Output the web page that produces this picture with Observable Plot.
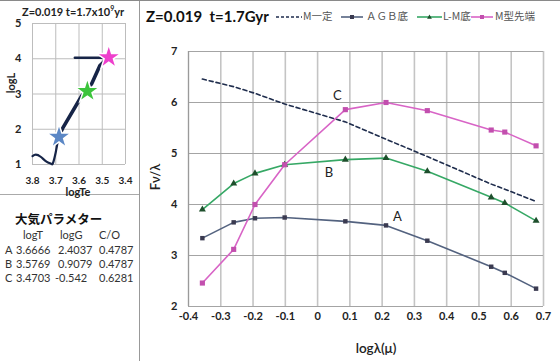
<!DOCTYPE html>
<html><head><meta charset="utf-8">
<script src="https://cdn.jsdelivr.net/npm/d3@7"></script>
<script src="https://cdn.jsdelivr.net/npm/@observablehq/plot@0.6"></script>
<style>
body{margin:0;background:#fff;}
#page{position:relative;width:560px;height:361px;overflow:hidden;font-family:Lato,"Noto Sans CJK JP",sans-serif;border-top:1px solid #8a8a8a;box-sizing:border-box;}
.abs{position:absolute;white-space:nowrap;line-height:1;}
.c{transform:translate(-50%,-50%);}
.lg{font-family:"Noto Sans CJK JP",sans-serif;font-size:10.5px;color:#555;top:10px;}
.tb{font-size:11px;color:#333;}
</style></head><body>
<div id="page">
  <div id="inset" class="abs" style="left:0;top:0;"></div>
  <div id="main" class="abs" style="left:140px;top:36px;"></div>
  <div class="abs" style="left:139px;top:0;width:1px;height:361px;background:#999;"></div>
  <div class="abs" style="left:0;top:193px;width:139px;height:1px;background:#aaa;"></div>

  <div class="abs" style="left:22px;top:4px;font-weight:bold;font-size:11px;color:#222;">Z=0.019 t=1.7x10<sup style="font-size:7px">9</sup>yr</div>
  <div class="abs c" style="left:10px;top:82px;font-weight:bold;font-size:11px;color:#222;transform:translate(-50%,-50%) rotate(-90deg);">logL</div>
  <div class="abs c" style="left:78px;top:190px;font-weight:bold;font-size:11px;color:#222;">logTe</div>

  <div class="abs" style="left:146px;top:8px;font-weight:bold;font-size:15px;color:#111;">Z=0.019&nbsp;&nbsp;t=1.7Gyr</div>
  <div id="legend"></div>

  <div class="abs c" style="left:155px;top:176px;font-weight:600;font-size:13px;color:#222;transform:translate(-50%,-50%) rotate(-90deg);">Fν/λ</div>
  <div class="abs c" style="left:376px;top:348px;font-weight:600;font-size:13.5px;color:#222;">logλ(μ)</div>

  <div id="table"></div>
</div>
<script>
// ---- main chart data ----
const logLam = [-0.357, -0.260, -0.194, -0.102, 0.086, 0.212, 0.340, 0.538, 0.580, 0.677];
const mConst = [6.46, 6.31, 6.18, 5.97, 5.62, 5.28, 4.94, 4.40, 4.30, 4.06];
const agb    = [3.34, 3.65, 3.73, 3.745, 3.67, 3.59, 3.29, 2.78, 2.66, 2.35];
const lmBot  = [3.90, 4.41, 4.61, 4.78, 4.88, 4.91, 4.65, 4.14, 4.03, 3.68];
const mTip   = [2.46, 3.12, 4.00, 4.78, 5.86, 6.00, 5.84, 5.46, 5.42, 5.15];
const seriesNames = ["M一定", "ＡＧＢ底", "L-M底", "M型先端"];
const xTicks = [-0.4, -0.3, -0.2, -0.1, 0, 0.1, 0.2, 0.3, 0.4, 0.5, 0.6, 0.7];
const yTicks = [2, 3, 4, 5, 6, 7];
const curveLabels = ["A", "B", "C"];
const curveLabelX = [0.247, 0.035, 0.061];
const curveLabelY = [3.76, 4.63, 6.14];

// ---- inset (HR diagram) data ----
const trackTeLow  = [3.800, 3.786, 3.765, 3.740, 3.720, 3.712, 3.700, 3.688];
const trackLLow   = [1.24, 1.28, 1.22, 1.08, 1.02, 1.04, 1.35, 1.79];
const trackTeHigh = [3.688, 3.670, 3.588, 3.567, 3.545, 3.510, 3.474];
const trackLHigh  = [1.79, 2.03, 2.95, 3.09, 3.30, 3.81, 4.03];
const branchTe = [3.618, 3.474];
const branchL  = [4.03, 4.03];
const starTe = [3.686, 3.564, 3.472];
const starL  = [1.78, 3.08, 4.04];
const starColors = ["#5b87c5", "#3cc43c", "#ee3fcc"];
const insetXTicks = [3.8, 3.7, 3.6, 3.5, 3.4];
const insetYTicks = [1, 2, 3, 4, 5];

// ---- parameter table ----
const tableTitle = "大気パラメター";
const tableHead = ["logT", "logG", "C/O"];
const tableRowNames = ["A", "B", "C"];
const tableLogT = ["3.6666", "3.5769", "3.4703"];
const tableLogG = ["2.4037", "0.9079", "-0.542"];
const tableCO   = ["0.4787", "0.4787", "0.6281"];

const fmt = d => String(d);
const mk = v => logLam.map((x, i) => ({x, y: v[i]}));
const dM = mk(mConst), dA = mk(agb), dL = mk(lmBot), dT = mk(mTip);
const labelsData = curveLabels.map((t, i) => ({t, x: curveLabelX[i], y: curveLabelY[i]}));

const main = Plot.plot({
  width: 420, height: 325,
  marginLeft: 48, marginRight: 17, marginTop: 14, marginBottom: 56,
  style: {fontFamily: "Lato, sans-serif", background: "transparent"},
  x: {domain: [-0.4, 0.7]},
  y: {domain: [2, 7]},
  marks: [
    Plot.ruleX(xTicks, {stroke: "#c4c4c4", strokeWidth: 1.6}),
    Plot.ruleY(yTicks, {stroke: "#a4a4a4", strokeWidth: 1}),
    Plot.ruleX([-0.4], {stroke: "#9a9a9a", strokeWidth: 1}),
    Plot.axisX({ticks: xTicks, tickSize: 0, tickPadding: 6, tickFormat: fmt, fontWeight: "bold", fontSize: 11, fill: "#222", label: null}),
    Plot.axisY({ticks: yTicks, tickSize: 0, tickPadding: 11, tickFormat: fmt, fontWeight: "bold", fontSize: 11, fill: "#222", label: null}),
    Plot.line(dM, {x: "x", y: "y", stroke: "#1f2d4d", strokeWidth: 1.6, strokeDasharray: "4,3"}),
    Plot.line(dA, {x: "x", y: "y", stroke: "#53627f", strokeWidth: 1.6}),
    Plot.dot(dA, {x: "x", y: "y", symbol: "square", r: 2.5, fill: "#3a3a50"}),
    Plot.line(dL, {x: "x", y: "y", stroke: "#36a865", strokeWidth: 1.6}),
    Plot.dot(dL, {x: "x", y: "y", symbol: "triangle", r: 2.6, fill: "#1e4f2c"}),
    Plot.line(dT, {x: "x", y: "y", stroke: "#d864c6", strokeWidth: 1.6}),
    Plot.dot(dT, {x: "x", y: "y", symbol: "square", r: 2.9, fill: "#c24fae"}),
    Plot.text(labelsData, {x: "x", y: "y", text: "t", fontSize: 13, fill: "#222", fontFamily: "Lato, sans-serif"})
  ]
});
document.getElementById("main").appendChild(main);

const low = trackTeLow.map((x, i) => ({x, y: trackLLow[i]}));
const high = trackTeHigh.map((x, i) => ({x, y: trackLHigh[i]}));
const branch = branchTe.map((x, i) => ({x, y: branchL[i]}));
const stars = starTe.map((x, i) => ({x, y: starL[i], c: starColors[i]}));

const inset = Plot.plot({
  width: 139, height: 193,
  marginLeft: 32, marginRight: 14, marginTop: 22, marginBottom: 30,
  style: {fontFamily: "Lato, sans-serif", background: "transparent"},
  x: {domain: [3.8, 3.4]},
  y: {domain: [1, 5]},
  marks: [
    Plot.ruleX(insetXTicks, {stroke: "#bdbdbd", strokeWidth: 1}),
    Plot.ruleY(insetYTicks, {stroke: "#bdbdbd", strokeWidth: 1}),
    Plot.axisX({ticks: insetXTicks, tickSize: 0, tickPadding: 12, tickFormat: fmt, fontWeight: "bold", fontSize: 10, fill: "#222", label: null}),
    Plot.axisY({ticks: insetYTicks, tickSize: 0, tickPadding: 11, tickFormat: fmt, fontWeight: "bold", fontSize: 11, fill: "#222", label: null}),
    Plot.line(low, {x: "x", y: "y", stroke: "#162447", strokeWidth: 2.2, curve: "natural"}),
    Plot.line(high, {x: "x", y: "y", stroke: "#162447", strokeWidth: 3.6}),
    Plot.line(branch, {x: "x", y: "y", stroke: "#162447", strokeWidth: 2.4}),
    Plot.dot(stars, {x: "x", y: "y", symbol: "star", r: 6.2, fill: "c", stroke: "white", strokeWidth: 3, paintOrder: "stroke"})
  ]
});
document.getElementById("inset").appendChild(inset);

// ---- legend ----
const legendSpec = [
  {left: 276, w: 26, dash: "3,2", color: "#1f2d4d", sym: null, text: seriesNames[0], tl: 303},
  {left: 341, w: 22, dash: null, color: "#53627f", sym: "sq", sc: "#3a3a50", text: seriesNames[1], tl: 366},
  {left: 417, w: 25, dash: null, color: "#36a865", sym: "tri", sc: "#1e4f2c", text: seriesNames[2], tl: 443},
  {left: 471, w: 22, dash: null, color: "#d864c6", sym: "sq", sc: "#c24fae", text: seriesNames[3], tl: 495}
];
const lg = document.getElementById("legend");
legendSpec.forEach(s => {
  const m = s.w / 2;
  let symSvg = "";
  if (s.sym === "sq") symSvg = `<rect x="${m - 2}" y="3" width="4" height="4" fill="${s.sc}"/>`;
  if (s.sym === "tri") symSvg = `<path d="M${m},2.6L${m + 2.4},6.8L${m - 2.4},6.8Z" fill="${s.sc}"/>`;
  lg.insertAdjacentHTML("beforeend",
    `<svg class="abs" style="left:${s.left}px;top:11px" width="${s.w}" height="10"><line x1="0" x2="${s.w}" y1="5" y2="5" stroke="${s.color}" stroke-width="1.6" ${s.dash ? `stroke-dasharray="${s.dash}"` : ""}/>${symSvg}</svg>` +
    `<div class="abs lg" style="left:${s.tl}px;">${s.text}</div>`);
});

// ---- table ----
const tb = document.getElementById("table");
tb.insertAdjacentHTML("beforeend", `<div class="abs" style="left:15px;top:212px;font-family:'Noto Sans CJK JP';font-weight:bold;font-size:12.5px;color:#111;">${tableTitle}</div>`);
const headX = [23, 60, 99];
tableHead.forEach((h, i) => tb.insertAdjacentHTML("beforeend", `<div class="abs tb" style="left:${headX[i]}px;top:228px;">${h}</div>`));
const rowY = [243, 257, 271];
tableRowNames.forEach((r, i) => {
  tb.insertAdjacentHTML("beforeend",
    `<div class="abs tb" style="left:5px;top:${rowY[i]}px;">${r}</div>` +
    `<div class="abs tb" style="left:16px;top:${rowY[i]}px;">${tableLogT[i]}</div>` +
    `<div class="abs tb" style="left:${tableLogG[i].startsWith("-") ? 55 : 58}px;top:${rowY[i]}px;">${tableLogG[i]}</div>` +
    `<div class="abs tb" style="left:99px;top:${rowY[i]}px;">${tableCO[i]}</div>`);
});
</script>
</body></html>
